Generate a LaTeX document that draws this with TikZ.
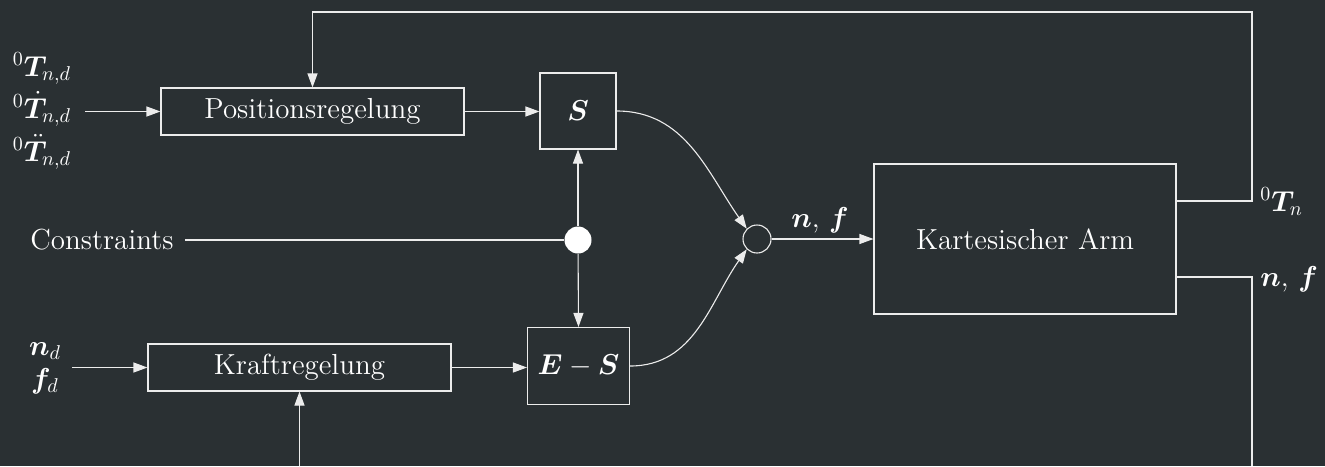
\documentclass[tikz,border=0pt]{standalone}
\usepackage{bm}
\usetikzlibrary{arrows.meta,calc}
\definecolor{bg}{RGB}{42,48,51}
\definecolor{ln}{RGB}{236,236,236}
\begin{document}
\begin{tikzpicture}[x=0.5pt,y=-0.5pt,
  every node/.style={text=white, font=\fontsize{14.5}{17}\selectfont},
  blk/.style={draw=ln, line width=0.55pt, inner sep=0pt},
  lab/.style={inner sep=0pt},
  conn/.style={draw=ln, line width=0.55pt},
  arr/.style={conn, -{Triangle[length=7pt,width=5pt]}},
]
\path[use as bounding box, fill=bg] (0,0) rectangle (1325,466);

% blocks
\node[blk, minimum width=151.5pt, minimum height=23.5pt] (pos) at (312.5,111.5) {Positionsregelung};
\node[blk, minimum width=38pt, minimum height=38pt] (S) at (578,111) {$\bm{S}$};
\node[blk, minimum width=51pt, minimum height=38.5pt] (ES) at (578.5,366) {$\bm{E}-\bm{S}$};
\node[blk, minimum width=151.5pt, minimum height=23.5pt] (kraft) at (299.5,367.5) {Kraftregelung};
\node[circle, fill=white, minimum size=13.5pt, inner sep=0pt] (dot) at (578,240) {};
\node[circle, draw=ln, line width=0.55pt, minimum size=14pt, inner sep=0pt] (sum) at (757,239) {};
\node[blk, minimum width=151pt, minimum height=75pt] (kart) at (1025,239) {Kartesischer Arm};

% labels
\node[lab, anchor=base] (tnd) at (42,76) {${}^{0}\bm{T}_{n,d}$};
\node[lab, anchor=base] (tdnd) at (42,118) {${}^{0}\dot{\bm{T}}_{n,d}$};
\node[lab, anchor=base] (tddnd) at (42,161) {${}^{0}\ddot{\bm{T}}_{n,d}$};
\node[lab, anchor=base] (nd) at (45,355) {$\bm{n}_d$};
\node[lab, anchor=base] (fd) at (45,388) {$\bm{f}_d$};
\node[lab, anchor=base] (cons) at (102,249) {Constraints};
\node[lab, anchor=base] (nflab) at (820,227) {$\bm{n},\,\bm{f}$};
\node[lab, anchor=base west] (tn) at (1260,211) {${}^{0}\bm{T}_{n}$};
\node[lab, anchor=base west] (nfout) at (1260,286) {$\bm{n},\,\bm{f}$};

% free ends
\coordinate (inpos) at (85,111.5);
\coordinate (inkraft) at (72,367.5);
\coordinate (rtop) at (1252,12);
\coordinate (rbot) at (1252,466);
\coordinate (kbot) at (299.5,466);

% connectors
\draw[arr] (inpos) -- (pos.west);
\draw[arr] (pos.east) -- (pos.east -| S.west);
\draw[arr] (inkraft) -- (kraft.west);
\draw[arr] (kraft.east) -- (kraft.east -| ES.west);
\draw[conn] ([xshift=5.5pt]cons.east |- dot) -- (dot);
\draw[arr] (dot) -- (S.south);
\draw[arr] (dot) -- (ES.north);
\draw[arr] (S.east) to[out=0,in=125] (sum.135);
\draw[arr] (ES.east) to[out=0,in=-125] (sum.-135);
\draw[arr] (sum) -- (kart);
\draw[arr] ([yshift=19pt]kart.east) -| (rtop) -| (pos.north);
\draw[conn] ([yshift=-19pt]kart.east) -| (rbot);
\draw[arr] (kbot) -- (kraft.south);
\end{tikzpicture}
\end{document}
